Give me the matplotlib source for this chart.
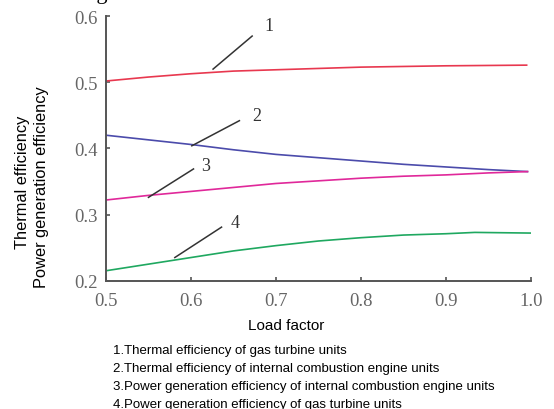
import matplotlib
matplotlib.use('Agg')
import matplotlib.pyplot as plt

# load factor / efficiency curves
load_1 = [0.5, 0.55, 0.6, 0.65, 0.7, 0.75, 0.8, 0.85, 0.9, 0.995]
eff_1 = [0.502, 0.508, 0.513, 0.517, 0.519, 0.521, 0.523, 0.524, 0.525, 0.526]

load_2 = [0.5, 0.55, 0.6, 0.65, 0.7, 0.75, 0.8, 0.85, 0.9, 0.95, 0.996]
eff_2 = [0.420, 0.413, 0.406, 0.398, 0.391, 0.386, 0.381, 0.376, 0.372, 0.368, 0.365]

load_3 = [0.5, 0.55, 0.6, 0.65, 0.7, 0.75, 0.8, 0.85, 0.9, 0.95, 0.996]
eff_3 = [0.322, 0.329, 0.335, 0.341, 0.347, 0.351, 0.355, 0.358, 0.360, 0.363, 0.365]

load_4 = [0.5, 0.55, 0.6, 0.65, 0.7, 0.75, 0.8, 0.85, 0.9, 0.934, 1.0]
eff_4 = [0.215, 0.225, 0.235, 0.245, 0.253, 0.260, 0.265, 0.269, 0.271, 0.273, 0.272]

colors = ['#e8384f', '#4b4bab', '#e0289a', '#1fa860']

# leader lines: (start x, start y, end x, end y, label x, label y)
leaders = [
    ('1', 0.626, 0.520, 0.672, 0.570, 0.692, 0.586),
    ('2', 0.601, 0.404, 0.657, 0.442, 0.677, 0.450),
    ('3', 0.550, 0.326, 0.603, 0.369, 0.617, 0.374),
    ('4', 0.581, 0.235, 0.636, 0.281, 0.652, 0.288),
]

notes = [
    '1.Thermal efficiency of gas turbine units',
    '2.Thermal efficiency of internal combustion engine units',
    '3.Power generation efficiency of internal combustion engine units',
    '4.Power generation efficiency of gas turbine units',
]

xticks = [0.5, 0.6, 0.7, 0.8, 0.9, 1.0]
yticks = [0.2, 0.3, 0.4, 0.5, 0.6]

fig = plt.figure(figsize=(5.54, 4.10), dpi=100)
ax = fig.add_axes([0.1913, 0.313, 0.767, 0.645])

for lx, ly, c in zip([load_1, load_2, load_3, load_4],
                     [eff_1, eff_2, eff_3, eff_4], colors):
    ax.plot(lx, ly, color=c, linewidth=1.2)

for lab, x0, y0, x1, y1, tx, ty in leaders:
    ax.plot([x0, x1], [y0, y1], color='#333333', linewidth=1.1)
    ax.text(tx, ty, lab, family='Liberation Serif', fontsize=13,
            color='#333333', ha='center', va='center')

ax.set_xlim(0.5, 1.0)
ax.set_ylim(0.2, 0.6)
ax.set_xticks(xticks)
ax.set_yticks(yticks)
ax.set_xticklabels(['%.1f' % v for v in xticks])
ax.set_yticklabels(['%.1f' % v for v in yticks])
for t in ax.get_xticklabels() + ax.get_yticklabels():
    t.set_family('Liberation Serif')
    t.set_fontsize(13.5)
    t.set_color('#666666')

ax.spines['top'].set_visible(False)
ax.spines['right'].set_visible(False)
for s in ['left', 'bottom']:
    ax.spines[s].set_color('#555555')
    ax.spines[s].set_linewidth(1.4)
ax.tick_params(direction='in', length=3, width=1.2, color='#555555')
ax.tick_params(axis='x', pad=8)
ax.tick_params(axis='y', pad=6)

# x label sits left of the axes centre in the source
fig.text(286 / 554, 1 - 326 / 410, 'Load factor', family='Liberation Sans',
         fontsize=11, ha='center', va='center')

fig.text(23 / 554, 1 - 182 / 410, 'Thermal efficiency', rotation=90,
         family='Liberation Sans', fontsize=11.8, ha='center', va='center')
fig.text(42 / 554, 1 - 187 / 410, 'Power generation efficiency', rotation=90,
         family='Liberation Sans', fontsize=11.8, ha='center', va='center')

for i, n in enumerate(notes):
    fig.text(113 / 554, 1 - (351 + 18 * i) / 410, n,
             family='Liberation Sans', fontsize=9.5, ha='left', va='center')

# caption cut off at the top of the crop
fig.text(45 / 554, 1 + 6 / 410, 'the Figure 3.', family='Liberation Serif',
         fontsize=16, ha='left', va='center')

fig.savefig('out.png', dpi=100)
